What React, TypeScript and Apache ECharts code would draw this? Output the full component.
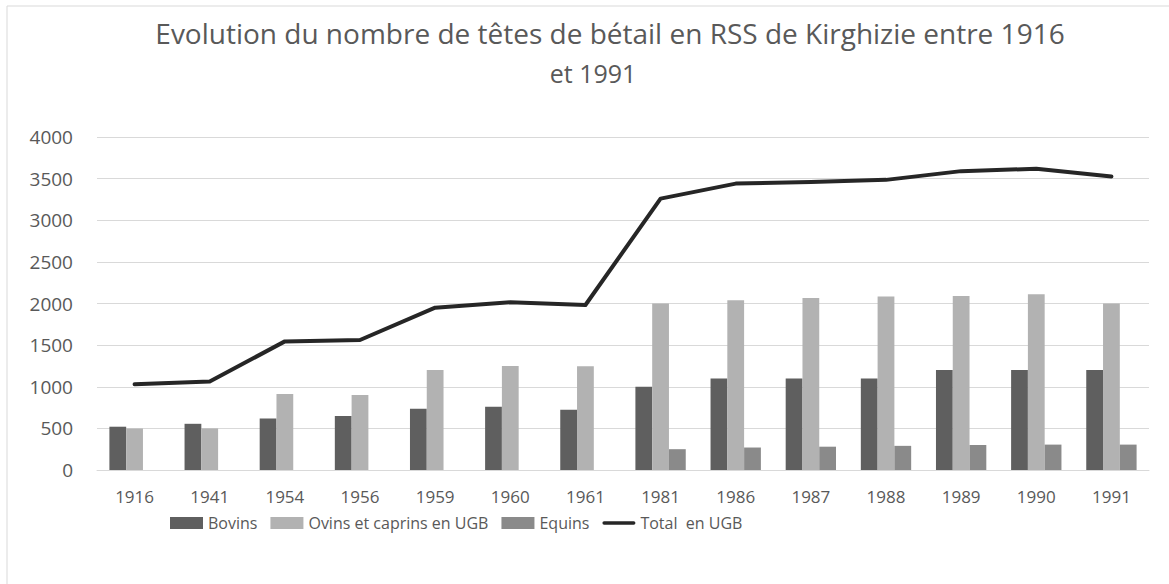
import React, { useEffect, useRef } from "react";
import * as echarts from "echarts";

const years = ["1916", "1941", "1954", "1956", "1959", "1960", "1961", "1981", "1986", "1987", "1988", "1989", "1990", "1991"];
const bovins = [520, 555, 620, 650, 735, 760, 725, 1000, 1100, 1100, 1100, 1200, 1200, 1200];
const ovins = [500, 500, 912, 900, 1200, 1250, 1245, 2000, 2040, 2065, 2085, 2090, 2110, 2000];
const equins = [null, null, null, null, null, null, null, 250, 270, 280, 290, 300, 305, 305];
const total = [1030, 1062, 1545, 1562, 1950, 2015, 1982, 3260, 3440, 3460, 3485, 3590, 3618, 3525];
const seriesNames = ["Bovins", "Ovins et caprins en UGB", "Equins", "Total  en UGB"];
const titleLines = ["Evolution du nombre de têtes de bétail en RSS de Kirghizie entre 1916", "et 1991"];

const FONT = "'Open Sans', sans-serif";

export default function App() {
  const ref = useRef<HTMLDivElement>(null);
  useEffect(() => {
    const chart = echarts.init(ref.current!, null, { renderer: "svg" });
    chart.setOption({
      animation: false,
      backgroundColor: "#ffffff",
      textStyle: { fontFamily: FONT },
      graphic: [
        {
          type: "rect",
          shape: { x: 7, y: 6, width: 1200, height: 620 },
          style: { fill: "none", stroke: "#d9d9d9", lineWidth: 1 },
          silent: true,
        },
        {
          type: "text",
          x: 610,
          y: 33,
          style: { text: titleLines[0], fill: "#595959", font: `28px ${FONT}`, textAlign: "center", textVerticalAlign: "middle" },
        },
        {
          type: "text",
          x: 593,
          y: 73,
          style: { text: titleLines[1], fill: "#595959", font: `25px ${FONT}`, textAlign: "center", textVerticalAlign: "middle" },
        },
      ],
      legend: {
        left: 165,
        top: 510,
        itemWidth: 33,
        itemHeight: 12,
        itemGap: 13,
        textStyle: { color: "#595959", fontSize: 16, fontFamily: FONT },
        data: [
          { name: seriesNames[0], icon: "rect" },
          { name: seriesNames[1], icon: "rect" },
          { name: seriesNames[2], icon: "rect" },
          { name: seriesNames[3], icon: "path://M2,0 H38 A2,2 0 0 1 38,4 H2 A2,2 0 0 1 2,0 Z" },
        ],
      },
      grid: { left: 97, right: 20, top: 137, bottom: 114, containLabel: false },
      xAxis: {
        type: "category",
        data: years,
        axisLine: { lineStyle: { color: "#d9d9d9", width: 1 } },
        axisTick: { show: false },
        axisLabel: { color: "#595959", fontSize: 17, margin: 18, fontFamily: FONT },
      },
      yAxis: {
        type: "value",
        min: 0,
        max: 4000,
        interval: 500,
        axisLine: { show: false },
        axisTick: { show: false },
        axisLabel: { color: "#595959", fontSize: 19, margin: 24, fontFamily: FONT, formatter: (v: number) => String(v) },
        splitLine: { lineStyle: { color: "#d9d9d9", width: 1 } },
      },
      series: [
        { name: seriesNames[0], type: "bar", data: bovins, barGap: "0%", barCategoryGap: "33%", itemStyle: { color: "#5f5f5f" } },
        { name: seriesNames[1], type: "bar", data: ovins, itemStyle: { color: "#b2b2b2" } },
        { name: seriesNames[2], type: "bar", data: equins, itemStyle: { color: "#8a8a8a" } },
        {
          name: seriesNames[3],
          type: "line",
          data: total,
          symbol: "none",
          showSymbol: false,
          z: 5,
          itemStyle: { color: "#262626" },
          lineStyle: { color: "#262626", width: 4, cap: "round", join: "round" },
        },
      ],
    });
    return () => chart.dispose();
  }, []);
  return <div ref={ref} style={{ position: "absolute", left: 0, top: 0, width: 1169, height: 584 }} />;
}
